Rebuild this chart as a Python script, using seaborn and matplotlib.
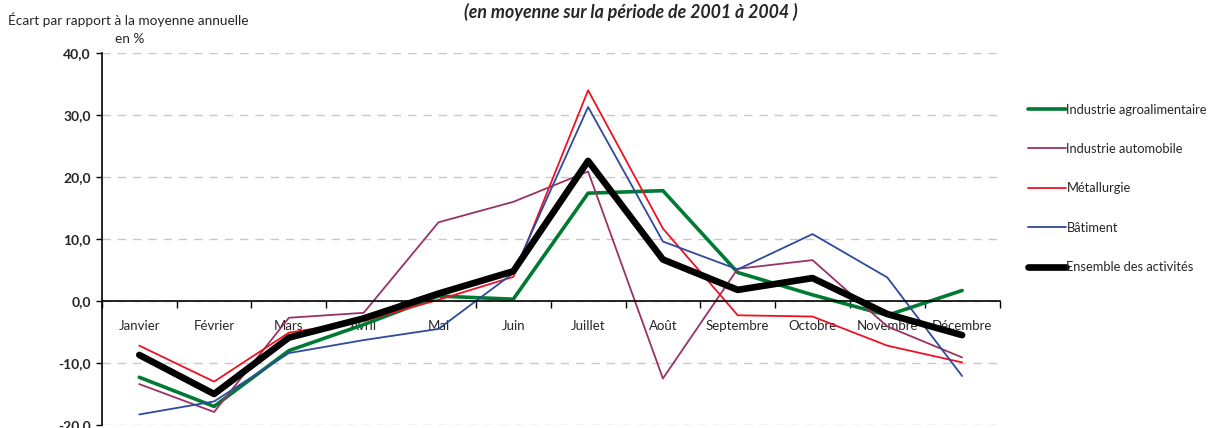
import numpy as np
import pandas as pd
import matplotlib
matplotlib.use('Agg')
import matplotlib.pyplot as plt
import seaborn as sns

# Data
mois = ['Janvier', 'Février', 'Mars', 'Avril', 'Mai', 'Juin', 'Juillet',
        'Août', 'Septembre', 'Octobre', 'Novembre', 'Décembre']
agro = [-12.3, -17.0, -8.0, -3.8, 0.8, 0.3, 17.4, 17.8, 4.6, 1.0, -2.3, 1.7]
auto = [-13.4, -17.9, -2.7, -1.9, 12.7, 16.0, 20.9, -12.5, 5.2, 6.6, -4.1, -9.1]
metal = [-7.2, -13.0, -5.1, -3.2, 0.2, 3.9, 34.0, 11.7, -2.3, -2.5, -7.2, -9.9]
batiment = [-18.3, -16.2, -8.4, -6.3, -4.5, 4.5, 31.3, 9.6, 5.1, 10.8, 3.8, -12.1]
ensemble = [-8.7, -15.0, -5.9, -2.8, 1.2, 4.8, 22.6, 6.7, 1.8, 3.7, -2.1, -5.5]

series = ['Industrie agroalimentaire', 'Industrie automobile', 'Métallurgie',
          'Bâtiment', 'Ensemble des activités']
values = [agro, auto, metal, batiment, ensemble]
colors = ['#007A33', '#993366', '#EE1122', '#2E4A9E', '#000000']
widths = [2.6, 1.3, 1.3, 1.3, 4.8]

sns.set_style('white')
plt.rcParams['font.family'] = ['Lato', 'DejaVu Sans']

fig = plt.figure(figsize=(12.13, 4.28), dpi=100)
ax = fig.add_axes([0.084, 0.007, 0.74, 0.869])

x = np.arange(len(mois))
for name, vals, col, lw in zip(series, values, colors, widths):
    sns.lineplot(x=x, y=vals, ax=ax, color=col, linewidth=lw, label=name,
                 sort=False, solid_capstyle='round', solid_joinstyle='round')

ax.set_xlim(-0.5, len(mois) - 0.5)
ax.set_ylim(-20, 40)
ax.set_yticks(np.arange(-20, 41, 10))
ax.set_yticklabels([f'{v:.1f}'.replace('.', ',') for v in np.arange(-20, 41, 10)],
                   fontsize=10, fontweight='bold')
ax.yaxis.grid(True, color='#c8c8c8', linestyle=(0, (6, 5)), linewidth=1)
ax.set_axisbelow(True)

# x axis drawn at zero, ticks at category boundaries, labels at centres
ax.spines['bottom'].set_position(('data', 0))
ax.spines['top'].set_visible(False)
ax.spines['right'].set_visible(False)
ax.spines['left'].set_linewidth(1.2)
ax.spines['bottom'].set_linewidth(1.2)
ax.spines['left'].set_color('black')
ax.spines['bottom'].set_color('black')
ax.set_xticks(np.arange(-0.5, len(mois), 1))
ax.set_xticklabels([])
ax.set_xticks(x, minor=True)
ax.set_xticklabels(mois, minor=True, fontsize=9.5)
ax.tick_params(axis='x', which='major', bottom=True, direction='out', length=5,
               width=1, color='black')
ax.tick_params(axis='x', which='minor', bottom=True, length=0, pad=14)
ax.tick_params(axis='y', left=True, direction='out', length=4, width=1,
               color='black', pad=4)
ax.set_xlabel('')
ax.set_ylabel('')

ax.get_legend().remove()
handles, labels = ax.get_legend_handles_labels()
fig.legend(handles, labels, loc='upper left', bbox_to_anchor=(0.843, 0.77),
           frameon=False, fontsize=9.3, labelspacing=2.12, handlelength=3.0,
           handletextpad=0.0, borderaxespad=0)

fig.text(0.007, 0.955, 'Écart par rapport à la moyenne annuelle', fontsize=9.8,
         va='center', ha='left')
fig.text(0.095, 0.91, 'en %', fontsize=9.8, va='center', ha='left')
fig.text(0.52, 0.972, '(en moyenne sur la période de 2001 à 2004 )', fontsize=12.8,
         fontweight='bold', style='italic', ha='center', va='center')

fig.savefig('out.png', dpi=100)
